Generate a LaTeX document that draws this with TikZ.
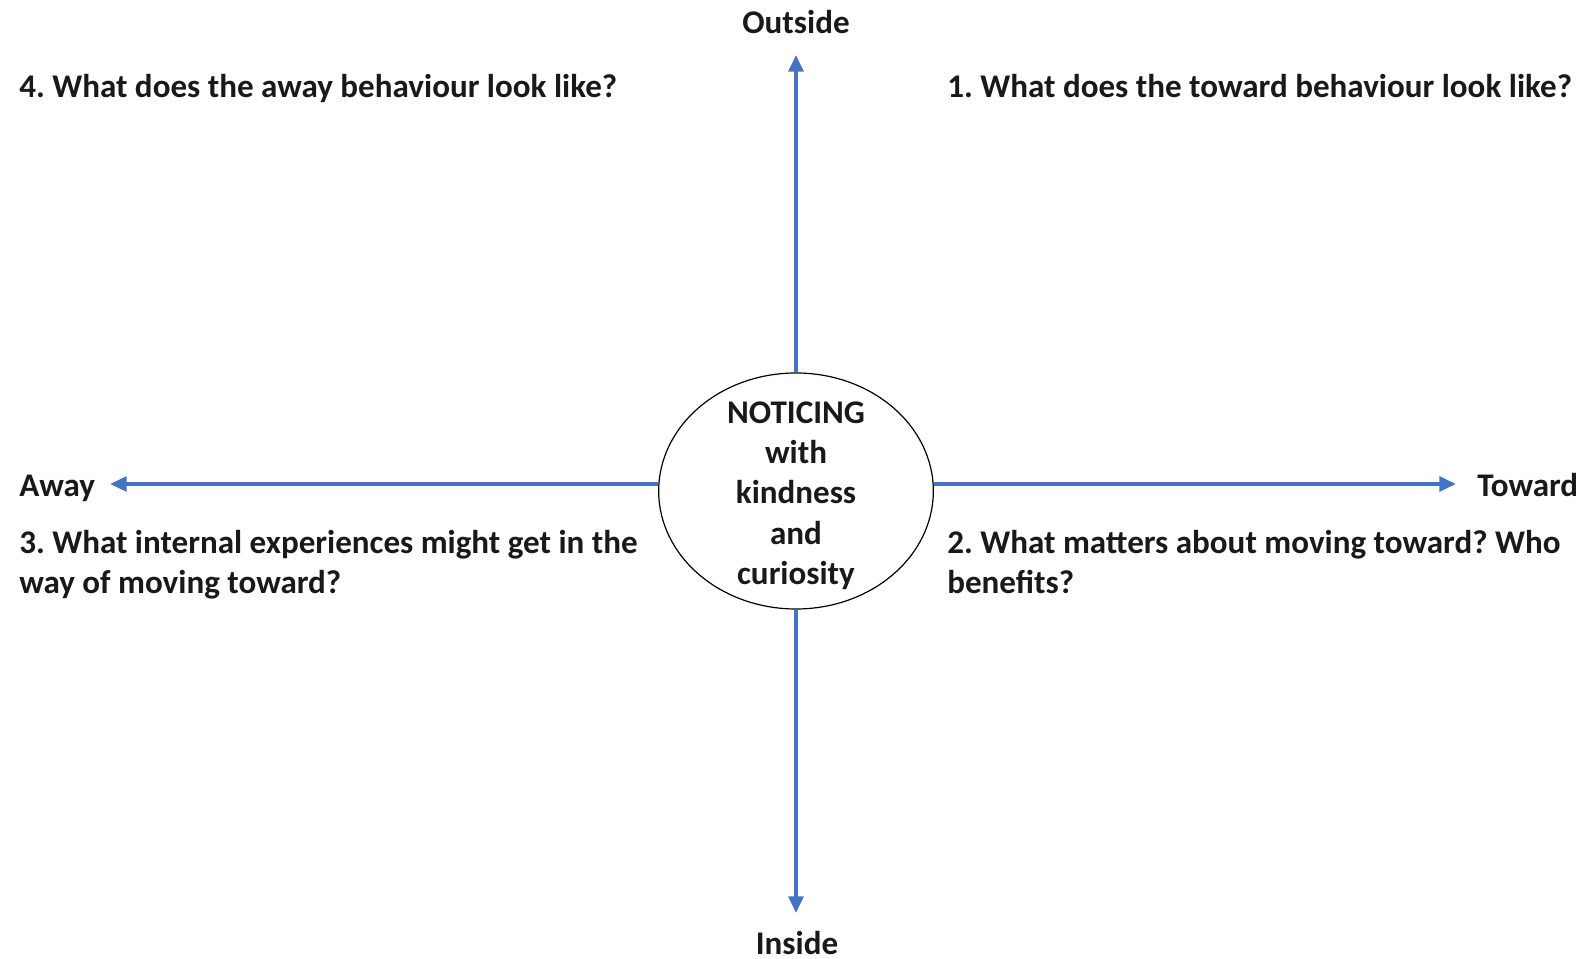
\documentclass[tikz,border=0pt]{standalone}
\usepackage{fontspec}
\setmainfont{Carlito}
\frenchspacing
\usetikzlibrary{shapes.geometric, arrows.meta}
\definecolor{axisblue}{RGB}{68,114,196}

\begin{document}
\begin{tikzpicture}[
			x=0.75pt, y=0.75pt,
			>={Triangle[length=12.5pt, width=11pt]},
			txt/.style={inner sep=0pt, font=\fontsize{24.8}{30.2}\selectfont\bfseries, text=black!90},
			axis/.style={draw=axisblue, line width=2.8pt}
			]
			\useasboundingbox (0,0) rectangle (1582,959);
			% centre ellipse, text set on top of it
			\node[draw, ellipse, line width=0.9pt, minimum width=206pt, minimum height=177pt, inner sep=0pt] (notice) at (796,468) {};
			\node[txt, align=center] (noticetext) at ([yshift=-3.5pt]notice.center) {NOTICING\\with\\kindness\\and\\curiosity};
			\coordinate (outtip) at (796,904);
			\coordinate (intip) at (796,46);
			\coordinate (awaytip) at (110,475);
			\coordinate (towardtip) at (1456,475);
			\node[txt, anchor=base] (outside) at (796,925) {Outside};
			\node[txt, anchor=base] (inside) at (797,4) {Inside};
			\node[txt, anchor=base west] (away) at (19,462) {Away};
			\node[txt, anchor=base west] (toward) at (1477,462) {Toward};
			\node[txt, anchor=base west] (q4) at (19,861) {4. What does the away behaviour look like?};
			\node[txt, anchor=base west] (q1) at (947,861) {1. What does the toward behaviour look like?};
			\node[txt, anchor=base west, align=left] (q3) at (19,365) {3. What internal experiences might get in the\\way of moving toward?};
			\node[txt, anchor=base west, align=left] (q2) at (947,365) {2. What matters about moving toward? Who\\benefits?};
			\draw[->, axis] (notice.north) -- (outtip);
			\draw[->, axis] (notice.south) -- (intip);
			\draw[->, axis] (notice.west |- awaytip) -- (awaytip);
			\draw[->, axis] (notice.east |- towardtip) -- (towardtip);
		\end{tikzpicture}
\end{document}
